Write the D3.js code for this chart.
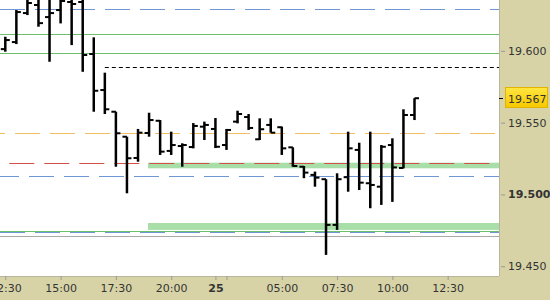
<!DOCTYPE html>
<html>
<head>
<meta charset="utf-8">
<script src="https://cdn.jsdelivr.net/npm/d3@7"></script>
<style>
body { margin: 0; background: #fff; }
svg { display: block; font-family: "DejaVu Sans", Verdana, sans-serif; }
</style>
</head>
<body>
<svg id="chart"></svg>
<script>
var W = 550, H = 300;
var plotW = 499, plotH = 276;

// 30 min bars, bar 0 = 12:30
var opens  = [19.6012, 19.6061, 19.6263, 19.6319, 19.6235, 19.6284, 19.6340, 19.6340, 19.5978, 19.5727,
              19.5576, 19.5402, 19.5254, 19.5428, 19.5513, 19.5303, 19.5337, 19.5330, 19.5472, 19.5456,
              19.5344, 19.5507, 19.5539, 19.5384, 19.5484, 19.5468, 19.5328, 19.5193, 19.5136, 19.5106,
              19.4788, 19.5120, 19.5310, 19.5078, 19.5054, 19.5344, 19.5184, 19.5553];
var highs  = [19.6098, 19.6284, 19.6367, 19.6423, 19.6388, 19.6388, 19.6409, 19.6388, 19.6094, 19.5848,
              19.5576, 19.5402, 19.5456, 19.5569, 19.5518, 19.5437, 19.5356, 19.5497, 19.5507, 19.5532,
              19.5456, 19.5583, 19.5560, 19.5530, 19.5530, 19.5472, 19.5328, 19.5198, 19.5159, 19.5106,
              19.5147, 19.5437, 19.5360, 19.5437, 19.5344, 19.5391, 19.5593, 19.5670];
var lows   = [19.5994, 19.6047, 19.6249, 19.6168, 19.5924, 19.6191, 19.6040, 19.5854, 19.5576, 19.5560,
              19.5193, 19.5008, 19.5228, 19.5402, 19.5275, 19.5275, 19.5193, 19.5321, 19.5379, 19.5323,
              19.5310, 19.5495, 19.5449, 19.5379, 19.5430, 19.5275, 19.5193, 19.5113, 19.5054, 19.4579,
              19.4753, 19.5019, 19.5031, 19.4904, 19.4927, 19.4948, 19.5182, 19.5518];
var closes = [19.6075, 19.6270, 19.6333, 19.6193, 19.6263, 19.6347, 19.6326, 19.5971, 19.5722, 19.5593,
              19.5426, 19.5252, 19.5430, 19.5518, 19.5298, 19.5344, 19.5344, 19.5477, 19.5484, 19.5332,
              19.5449, 19.5560, 19.5463, 19.5454, 19.5430, 19.5321, 19.5198, 19.5152, 19.5117, 19.4788,
              19.5106, 19.5321, 19.5082, 19.5066, 19.5332, 19.5188, 19.5553, 19.5670];

var tickBars   = [0, 5, 10, 15, 19, 20, 25, 30, 35, 40];
var tickLabels = ["12:30", "15:00", "17:30", "20:00", "25", "", "05:00", "07:30", "10:00", "12:30"];
var priceTicks = [19.45, 19.50, 19.55, 19.60];
var lastPrice = 19.567;

// horizontal levels
var levelValues = [19.6289, 19.6115, 19.5983, 19.5889, 19.5430, 19.5217, 19.5127, 19.4746, 19.4739, 19.4711];
var levelStart  = [0, 0, 0, 9, 0, 0, 0, 0, 0, 0];
var levelKinds  = ["blue", "green", "green", "black", "orange", "red", "blue", "green", "blue", "gray"];

// shaded zones
var zoneHigh  = [19.5221, 19.4801];
var zoneLow   = [19.5182, 19.4753];
var zoneStart = 12.9;

var kindStyle = {
    blue:   { color: "#6e96d2", dash: "25,10" },
    green:  { color: "#6cc06c", dash: null },
    black:  { color: "#000000", dash: "4,3" },
    orange: { color: "#f0be64", dash: "25,10" },
    red:    { color: "#d25046", dash: "25,10" },
    gray:   { color: "#aaaaaa", dash: null }
};
var dashOffsets = [0, 0, 0, 0, 20, 25.7, 6, 0, 0, 0];

var svg = d3.select("#chart")
    .attr("width", W)
    .attr("height", H);

var x = d3.scaleLinear()
    .domain([-0.479, 44.64])
    .range([0, plotW]);

var y = d3.scaleLinear()
    .domain([19.4432, 19.6354])
    .range([plotH, 0]);

// backgrounds
svg.append("rect").attr("width", W).attr("height", H).attr("fill", "#d7d3a7");
svg.append("rect").attr("width", plotW).attr("height", plotH).attr("fill", "#fff");

svg.append("clipPath").attr("id", "plotclip")
    .append("rect").attr("width", plotW).attr("height", plotH);

var plot = svg.append("g").attr("clip-path", "url(#plotclip)");

// zones
plot.selectAll(".zone")
    .data(zoneHigh)
    .enter()
    .append("rect")
    .attr("class", "zone")
    .attr("x", x(zoneStart))
    .attr("y", function(d) { return y(d); })
    .attr("width", plotW - x(zoneStart))
    .attr("height", function(d, i) { return y(zoneLow[i]) - y(d); })
    .attr("fill", "#a8dea8");

// levels
plot.selectAll(".level")
    .data(levelValues)
    .enter()
    .append("line")
    .attr("class", "level")
    .attr("x1", function(d, i) { return levelStart[i] ? x(levelStart[i]) : 0; })
    .attr("x2", plotW)
    .attr("y1", function(d) { return Math.round(y(d)) + 0.5; })
    .attr("y2", function(d) { return Math.round(y(d)) + 0.5; })
    .attr("stroke", function(d, i) { return kindStyle[levelKinds[i]].color; })
    .attr("stroke-width", 1)
    .attr("stroke-dasharray", function(d, i) { return kindStyle[levelKinds[i]].dash; })
    .attr("stroke-dashoffset", function(d, i) { return dashOffsets[i]; });

// ohlc bars
var bars = plot.selectAll(".bar")
    .data(opens)
    .enter()
    .append("g")
    .attr("class", "bar");

bars.append("line")
    .attr("x1", function(d, i) { return x(i); })
    .attr("x2", function(d, i) { return x(i); })
    .attr("y1", function(d, i) { return y(highs[i]); })
    .attr("y2", function(d, i) { return y(lows[i]); })
    .attr("stroke", "#000")
    .attr("stroke-width", 2.5);

bars.append("line")
    .attr("x1", function(d, i) { return x(i) - 4.5; })
    .attr("x2", function(d, i) { return x(i); })
    .attr("y1", function(d) { return y(d); })
    .attr("y2", function(d) { return y(d); })
    .attr("stroke", "#000")
    .attr("stroke-width", 2);

bars.append("line")
    .attr("x1", function(d, i) { return x(i); })
    .attr("x2", function(d, i) { return x(i) + 4.5; })
    .attr("y1", function(d, i) { return y(closes[i]); })
    .attr("y2", function(d, i) { return y(closes[i]); })
    .attr("stroke", "#000")
    .attr("stroke-width", 2);

// panel edges
svg.append("line")
    .attr("x1", plotW + 0.5).attr("x2", plotW + 0.5)
    .attr("y1", 0).attr("y2", plotH)
    .attr("stroke", "#b9b69c");
svg.append("line")
    .attr("x1", 0).attr("x2", plotW)
    .attr("y1", plotH + 0.5).attr("y2", plotH + 0.5)
    .attr("stroke", "#b9b69c");

// x axis
var xAxis = svg.append("g")
    .attr("class", "axis x-axis")
    .attr("transform", "translate(0," + plotH + ")")
    .call(d3.axisBottom(x)
        .tickValues(tickBars)
        .tickSize(4)
        .tickPadding(4)
        .tickFormat(function(d, i) { return tickLabels[i]; }));

xAxis.select(".domain").remove();
xAxis.selectAll(".tick line").attr("stroke", "#999");
xAxis.selectAll(".tick text")
    .attr("fill", "#333")
    .style("font-size", "11px")
    .style("font-family", "'DejaVu Sans', Verdana, sans-serif")
    .style("font-weight", function(d, i) { return tickLabels[i] === "25" ? "bold" : "normal"; });

// y axis
var yAxis = svg.append("g")
    .attr("class", "axis y-axis")
    .attr("transform", "translate(" + (plotW + 2) + ",0)")
    .call(d3.axisRight(y)
        .tickValues(priceTicks)
        .tickSize(4)
        .tickPadding(3)
        .tickFormat(d3.format(".3f")));

yAxis.select(".domain").remove();
yAxis.selectAll(".tick line").attr("stroke", "#999");
yAxis.selectAll(".tick text")
    .attr("fill", "#333")
    .style("font-size", "11px")
    .style("font-family", "'DejaVu Sans', Verdana, sans-serif")
    .style("font-weight", function(d) { return d === 19.5 ? "bold" : "normal"; });

// last price marker
var py = y(lastPrice);
svg.append("line")
    .attr("x1", plotW).attr("x2", plotW + 4)
    .attr("y1", Math.round(py) + 0.5).attr("y2", Math.round(py) + 0.5)
    .attr("stroke", "#000");

var grad = svg.append("defs").append("linearGradient")
    .attr("id", "pricegrad")
    .attr("x1", 0).attr("x2", 0).attr("y1", 0).attr("y2", 1);
grad.append("stop").attr("offset", "0%").attr("stop-color", "#ffe640");
grad.append("stop").attr("offset", "100%").attr("stop-color", "#f6c800");

svg.append("rect")
    .attr("x", 505.5)
    .attr("y", Math.round(py) - 10.5)
    .attr("width", 42)
    .attr("height", 20)
    .attr("fill", "url(#pricegrad)")
    .attr("stroke", "#e2b400");

svg.append("text")
    .attr("x", 508)
    .attr("y", py + 1)
    .attr("dy", "0.32em")
    .attr("fill", "#333")
    .style("font-size", "11px")
    .text(d3.format(".3f")(lastPrice));
</script>
</body>
</html>
